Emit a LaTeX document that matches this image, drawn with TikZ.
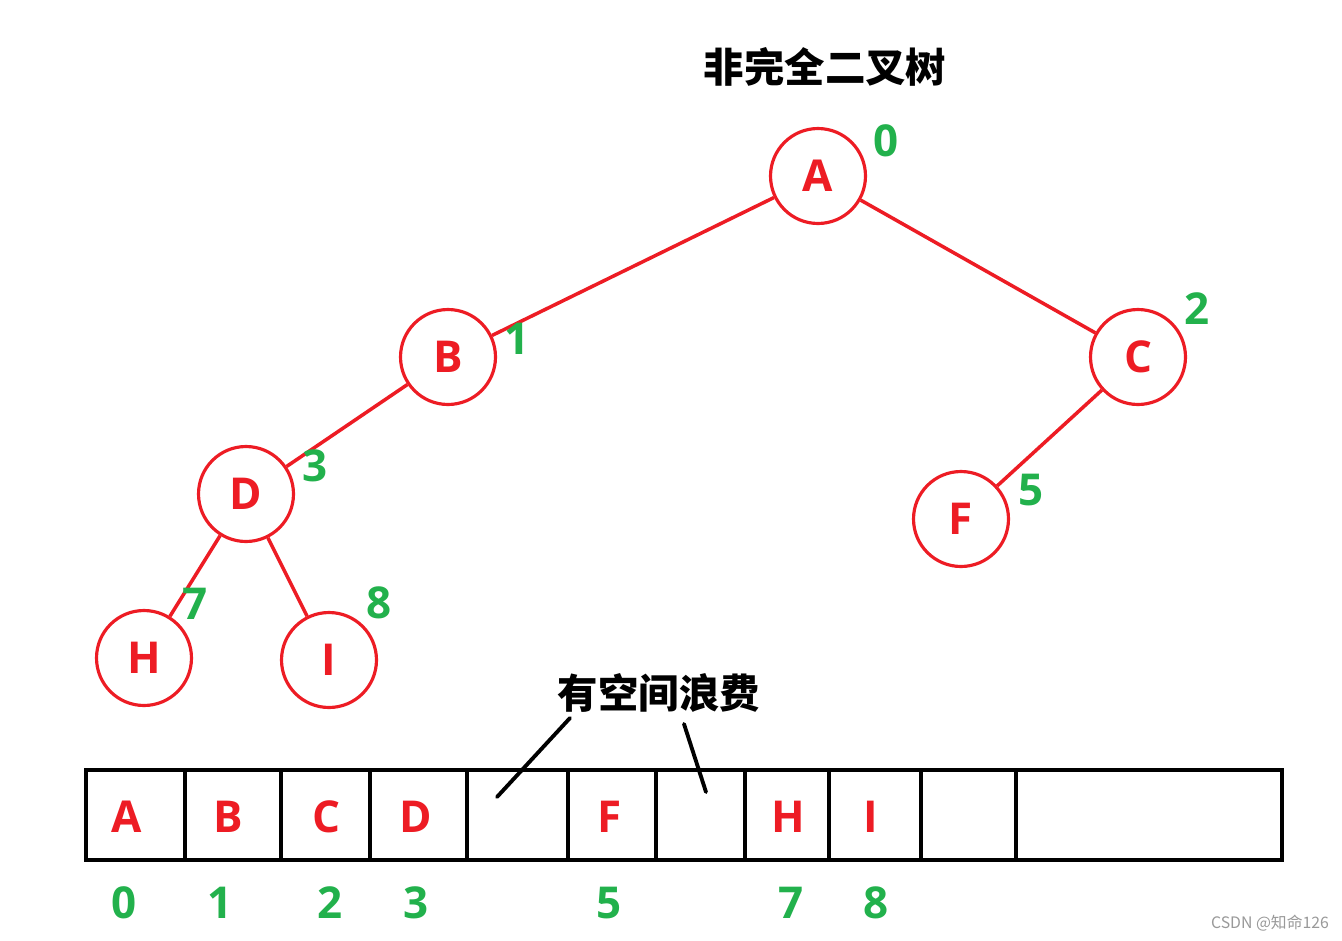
\documentclass[tikz,border=0pt]{standalone}
\usepackage{fontspec}
\setmainfont{Open Sans}
\newfontfamily\cjk{Noto Sans CJK SC}
\definecolor{pred}{RGB}{237,28,36}
\definecolor{pgreen}{RGB}{34,177,76}
\begin{document}
\begin{tikzpicture}[x=0.02cm,y=-0.02cm,
  tnode/.style={circle,draw=pred,line width=1.8pt,minimum size=1.9cm,inner sep=0pt,
    text=pred,font=\fontsize{25}{25}\selectfont\bfseries},
  edge/.style={draw=pred,line width=2pt},
  idx/.style={text=pgreen,font=\fontsize{25}{25}\selectfont\bfseries,inner sep=0pt},
  cell/.style={text=pred,font=\fontsize{25}{25}\selectfont\bfseries,inner sep=0pt},
  ptr/.style={draw=black,line width=2.2pt,line cap=round},
  title/.style={font=\cjk\fontsize{23}{23}\selectfont\bfseries,inner sep=0pt}]
\useasboundingbox (0,0) rectangle (1342,940);
\fill[white] (0,0) rectangle (1342,940);
% title
\node[title] (t1) at (825,67) {非完全二叉树};
% tree nodes
\node[tnode] (A) at (818,176) {A};
\node[tnode] (B) at (448,357) {B};
\node[tnode] (C) at (1138,357) {C};
\node[tnode] (D) at (246,494) {D};
\node[tnode] (F) at (961,519) {F};
\node[tnode] (H) at (144,658) {H};
\node[tnode] (I) at (329,660) {I};
\draw[edge] (A) -- (B);
\draw[edge] (A) -- (C);
\draw[edge] (B) -- (D);
\draw[edge] (C) -- (F);
\draw[edge] (D) -- (H);
\draw[edge] (D) -- (I);
% index labels
\node[idx] (n0) at (886,141) {0};
\node[idx] (n1) at (517,339) {1};
\node[idx] (n2) at (1197,309) {2};
\node[idx] (n3) at (315,466) {3};
\node[idx] (n5) at (1031,490) {5};
\node[idx] (n7) at (195,604) {7};
\node[idx] (n8) at (379,603) {8};
% array
\draw[line width=2.3pt] (86,770) rectangle (1282,860);
\foreach \x in {185,281,370,467,568,656,745,829,921,1016}
  \draw[line width=2.3pt] (\x,770) -- (\x,860);
\node[cell] (cA) at (127,817) {A};
\node[cell] (cB) at (228,817) {B};
\node[cell] (cC) at (326,817) {C};
\node[cell] (cD) at (416,817) {D};
\node[cell] (cF) at (610,817) {F};
\node[cell] (cH) at (788,817) {H};
\node[cell] (cI) at (871,817) {I};
\node[idx] (a0) at (124,903) {0};
\node[idx] (a1) at (220,903) {1};
\node[idx] (a2) at (330,903) {2};
\node[idx] (a3) at (416,903) {3};
\node[idx] (a5) at (609,903) {5};
\node[idx] (a7) at (791,903) {7};
\node[idx] (a8) at (876,903) {8};
% waste annotation
\node[title] (w) at (659,693) {有空间浪费};
\coordinate (p1s) at (570,718);
\coordinate (p1e) at (497,797);
\coordinate (p2s) at (684,724);
\coordinate (p2e) at (706,792);
\draw[ptr] (p1s) -- (p1e);
\draw[ptr] (p2s) -- (p2e);
% watermark
\node[font=\cjk\fontsize{9}{9}\selectfont,text=black!40,inner sep=0pt] (wm) at (1270,923) {CSDN @知命126};
\end{tikzpicture}
\end{document}
